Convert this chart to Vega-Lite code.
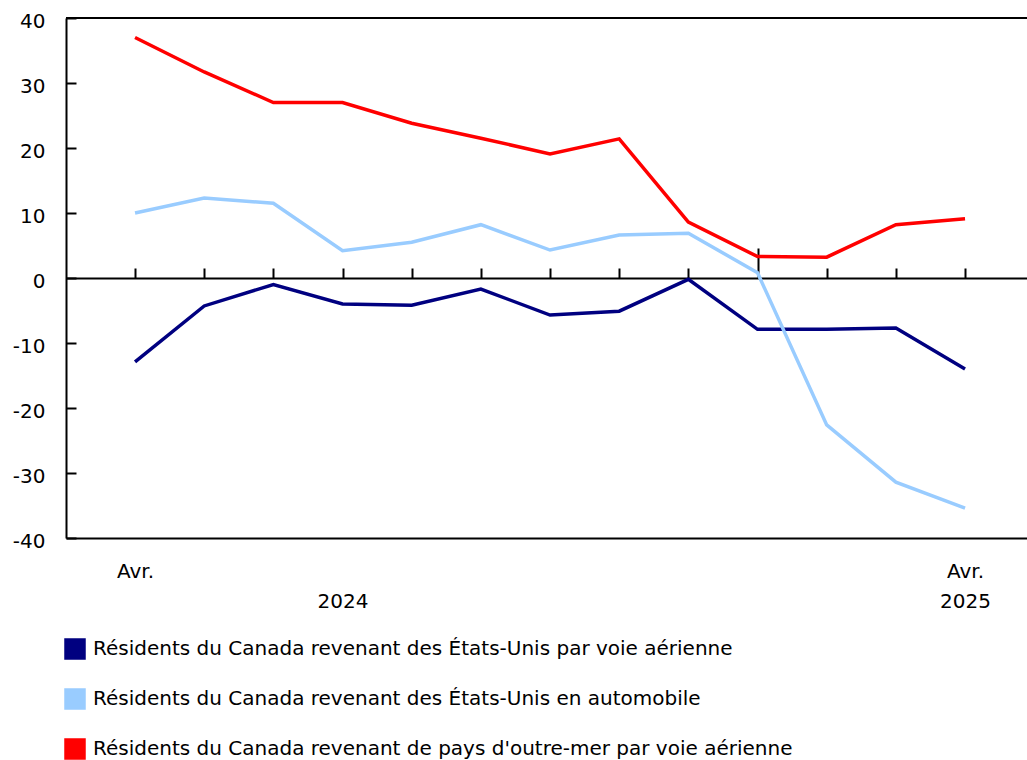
{
  "$schema": "https://vega.github.io/schema/vega-lite/v6.json",
  "width": 961,
  "height": 520,
  "autosize": "none",
  "padding": {"left": 66, "top": 18, "right": 0, "bottom": 222},
  "background": "white",
  "config": {
    "font": "DejaVu Sans",
    "view": {"stroke": null},
    "axis": {"labelFont": "DejaVu Sans", "labelFontSize": 20, "labelColor": "#000", "grid": false, "title": null},
    "legend": {"labelFont": "DejaVu Sans", "labelFontSize": 20, "labelColor": "#000"}
  },
  "data": {
    "values": [
      {"mois": "2024-04", "serie": "Résidents du Canada revenant des États-Unis par voie aérienne", "valeur": -12.9},
      {"mois": "2024-05", "serie": "Résidents du Canada revenant des États-Unis par voie aérienne", "valeur": -4.3},
      {"mois": "2024-06", "serie": "Résidents du Canada revenant des États-Unis par voie aérienne", "valeur": -1.0},
      {"mois": "2024-07", "serie": "Résidents du Canada revenant des États-Unis par voie aérienne", "valeur": -4.0},
      {"mois": "2024-08", "serie": "Résidents du Canada revenant des États-Unis par voie aérienne", "valeur": -4.2},
      {"mois": "2024-09", "serie": "Résidents du Canada revenant des États-Unis par voie aérienne", "valeur": -1.7},
      {"mois": "2024-10", "serie": "Résidents du Canada revenant des États-Unis par voie aérienne", "valeur": -5.7},
      {"mois": "2024-11", "serie": "Résidents du Canada revenant des États-Unis par voie aérienne", "valeur": -5.1},
      {"mois": "2024-12", "serie": "Résidents du Canada revenant des États-Unis par voie aérienne", "valeur": -0.2},
      {"mois": "2025-01", "serie": "Résidents du Canada revenant des États-Unis par voie aérienne", "valeur": -7.9},
      {"mois": "2025-02", "serie": "Résidents du Canada revenant des États-Unis par voie aérienne", "valeur": -7.9},
      {"mois": "2025-03", "serie": "Résidents du Canada revenant des États-Unis par voie aérienne", "valeur": -7.7},
      {"mois": "2025-04", "serie": "Résidents du Canada revenant des États-Unis par voie aérienne", "valeur": -14.0},
      {"mois": "2024-04", "serie": "Résidents du Canada revenant des États-Unis en automobile", "valeur": 10.0},
      {"mois": "2024-05", "serie": "Résidents du Canada revenant des États-Unis en automobile", "valeur": 12.3},
      {"mois": "2024-06", "serie": "Résidents du Canada revenant des États-Unis en automobile", "valeur": 11.5},
      {"mois": "2024-07", "serie": "Résidents du Canada revenant des États-Unis en automobile", "valeur": 4.2},
      {"mois": "2024-08", "serie": "Résidents du Canada revenant des États-Unis en automobile", "valeur": 5.5},
      {"mois": "2024-09", "serie": "Résidents du Canada revenant des États-Unis en automobile", "valeur": 8.2},
      {"mois": "2024-10", "serie": "Résidents du Canada revenant des États-Unis en automobile", "valeur": 4.3},
      {"mois": "2024-11", "serie": "Résidents du Canada revenant des États-Unis en automobile", "valeur": 6.6},
      {"mois": "2024-12", "serie": "Résidents du Canada revenant des États-Unis en automobile", "valeur": 6.9},
      {"mois": "2025-01", "serie": "Résidents du Canada revenant des États-Unis en automobile", "valeur": 0.8},
      {"mois": "2025-02", "serie": "Résidents du Canada revenant des États-Unis en automobile", "valeur": -22.6},
      {"mois": "2025-03", "serie": "Résidents du Canada revenant des États-Unis en automobile", "valeur": -31.4},
      {"mois": "2025-04", "serie": "Résidents du Canada revenant des États-Unis en automobile", "valeur": -35.4},
      {"mois": "2024-04", "serie": "Résidents du Canada revenant de pays d'outre-mer par voie aérienne", "valeur": 37.0},
      {"mois": "2024-05", "serie": "Résidents du Canada revenant de pays d'outre-mer par voie aérienne", "valeur": 31.7},
      {"mois": "2024-06", "serie": "Résidents du Canada revenant de pays d'outre-mer par voie aérienne", "valeur": 27.0},
      {"mois": "2024-07", "serie": "Résidents du Canada revenant de pays d'outre-mer par voie aérienne", "valeur": 27.0},
      {"mois": "2024-08", "serie": "Résidents du Canada revenant de pays d'outre-mer par voie aérienne", "valeur": 23.8},
      {"mois": "2024-09", "serie": "Résidents du Canada revenant de pays d'outre-mer par voie aérienne", "valeur": 21.5},
      {"mois": "2024-10", "serie": "Résidents du Canada revenant de pays d'outre-mer par voie aérienne", "valeur": 19.1},
      {"mois": "2024-11", "serie": "Résidents du Canada revenant de pays d'outre-mer par voie aérienne", "valeur": 21.4},
      {"mois": "2024-12", "serie": "Résidents du Canada revenant de pays d'outre-mer par voie aérienne", "valeur": 8.6},
      {"mois": "2025-01", "serie": "Résidents du Canada revenant de pays d'outre-mer par voie aérienne", "valeur": 3.3},
      {"mois": "2025-02", "serie": "Résidents du Canada revenant de pays d'outre-mer par voie aérienne", "valeur": 3.2},
      {"mois": "2025-03", "serie": "Résidents du Canada revenant de pays d'outre-mer par voie aérienne", "valeur": 8.2},
      {"mois": "2025-04", "serie": "Résidents du Canada revenant de pays d'outre-mer par voie aérienne", "valeur": 9.1}
    ]
  },
  "layer": [
    {
      "mark": {"type": "rule", "color": "#000", "strokeWidth": 2},
      "encoding": {"y": {"datum": 40, "type": "quantitative"}}
    },
    {
      "mark": {"type": "line", "opacity": 0},
      "encoding": {
        "x": {
          "field": "mois", "type": "ordinal", "sort": null,
          "scale": {"type": "point", "padding": 0.947, "align": 0.527},
          "axis": {
            "orient": "top", "offset": -260, "labels": false,
            "domain": true, "domainColor": "#000", "domainWidth": 2,
            "ticks": true, "tickColor": "#000", "tickWidth": 2,
            "tickSize": {"condition": {"test": "datum.value === '2025-01'", "value": 30}, "value": 10}
          }
        },
        "y": {"field": "valeur", "type": "quantitative"},
        "detail": {"field": "serie"}
      }
    },
    {
      "mark": {"type": "line", "strokeWidth": 3.5},
      "encoding": {
        "x": {
          "field": "mois", "type": "ordinal", "sort": null,
          "axis": {
            "orient": "bottom", "domain": true, "domainColor": "#000", "domainWidth": 2,
            "ticks": false, "labelAngle": 0, "labelPadding": 23, "labelLineHeight": 30,
            "labelBaseline": "top", "labelOverlap": false,
            "labelExpr": "datum.value === '2024-04' ? 'Avr.' : datum.value === '2024-07' ? ['', '2024'] : datum.value === '2025-04' ? ['Avr.', '2025'] : ''"
          }
        },
        "y": {
          "field": "valeur", "type": "quantitative",
          "scale": {"domain": [-40, 40], "nice": false},
          "axis": {
            "orient": "left",
            "values": [-40, -30, -20, -10, 0, 10, 20, 30, 40],
            "labelExpr": "toString(datum.value)",
            "domain": true, "domainColor": "#000", "domainWidth": 2,
            "ticks": true, "tickColor": "#000", "tickWidth": 2, "tickSize": -10,
            "labelPadding": 31, "labelOffset": 3
          }
        },
        "color": {
          "field": "serie", "type": "nominal",
          "scale": {
            "domain": [
              "Résidents du Canada revenant des États-Unis par voie aérienne",
              "Résidents du Canada revenant des États-Unis en automobile",
              "Résidents du Canada revenant de pays d'outre-mer par voie aérienne"
            ],
            "range": ["#000080", "#99CCFF", "#FF0000"]
          },
          "legend": {
            "orient": "none", "legendX": -2, "legendY": 620, "title": null,
            "direction": "vertical", "padding": 0,
            "symbolType": "square", "symbolSize": 400, "rowPadding": 24,
            "labelOffset": 7, "labelLimit": 900,
            "encode": {"symbols": {"update": {"fill": {"scale": "color", "field": "value"}, "fillOpacity": {"value": 1}, "stroke": {"value": "#000"}, "strokeWidth": {"value": 1.5}, "opacity": {"value": 1}}}}
          }
        }
      }
    }
  ]
}
